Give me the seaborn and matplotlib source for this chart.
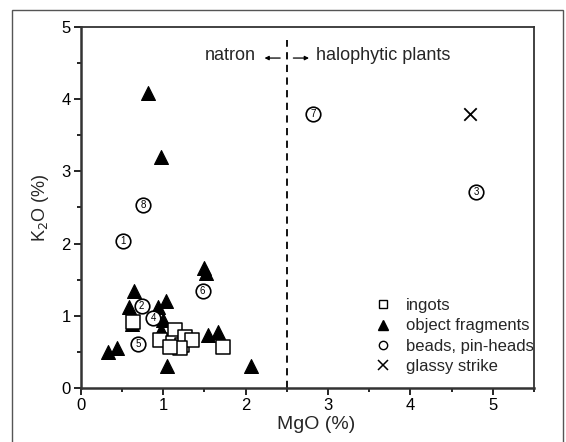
import matplotlib
matplotlib.use("Agg")
import matplotlib.pyplot as plt
import seaborn as sns
import pandas as pd
from matplotlib.lines import Line2D
from matplotlib.patches import Rectangle

# ---- data ----
ingot_mgo = [0.64, 0.96, 1.14, 1.12, 1.23, 1.27, 1.35, 1.20, 1.08, 1.73]
ingot_k2o = [0.92, 0.67, 0.80, 0.62, 0.60, 0.71, 0.66, 0.55, 0.57, 0.57]

frag_mgo = [0.82, 0.97, 1.49, 1.52, 0.65, 0.59, 1.04, 0.94, 0.62, 1.00, 0.98, 0.98,
            0.33, 0.44, 1.05, 2.07, 1.54, 1.67]
frag_k2o = [4.08, 3.20, 1.66, 1.59, 1.34, 1.12, 1.20, 1.12, 0.88, 0.94, 0.80, 0.69,
            0.50, 0.55, 0.30, 0.30, 0.74, 0.78]

bead_mgo = [0.51, 0.74, 4.80, 0.88, 0.70, 1.48, 2.82, 0.76]
bead_k2o = [2.03, 1.13, 2.72, 0.97, 0.61, 1.35, 3.80, 2.53]
bead_labels = ["1", "2", "3", "4", "5", "6", "7", "8"]

strike_mgo = [4.72]
strike_k2o = [3.79]

categories = ["ingots", "object fragments", "beads, pin-heads", "glassy strike"]
boundary_mgo = 2.5

sns.set_theme(style="white")
plt.rcParams['font.family'] = ['Liberation Sans Narrow', 'Liberation Sans', 'DejaVu Sans']

fig = plt.figure(figsize=(5.66, 4.42), dpi=100)
ax = fig.add_axes([0.1426, 0.1222, 0.8009, 0.8167])

fig.patches.append(Rectangle((12/566, -0.05), (563-12)/566, 1.05 - 10/442,
                             transform=fig.transFigure, fill=False,
                             edgecolor="#555555", linewidth=1.0))

df_i = pd.DataFrame({"MgO": ingot_mgo, "K2O": ingot_k2o})
df_f = pd.DataFrame({"MgO": frag_mgo, "K2O": frag_k2o})
df_b = pd.DataFrame({"MgO": bead_mgo, "K2O": bead_k2o, "lab": bead_labels})
df_s = pd.DataFrame({"MgO": strike_mgo, "K2O": strike_k2o})

sns.scatterplot(data=df_f, x="MgO", y="K2O", marker="^", s=100, color="black",
                edgecolor="black", linewidth=0.8, ax=ax, zorder=3)
sns.scatterplot(data=df_i, x="MgO", y="K2O", marker="s", s=100, facecolor="white",
                edgecolor="black", linewidth=1.1, ax=ax, zorder=4)
sns.scatterplot(data=df_b, x="MgO", y="K2O", marker="o", s=110, facecolor="white",
                edgecolor="black", linewidth=1.2, ax=ax, zorder=5)
sns.scatterplot(data=df_s, x="MgO", y="K2O", marker="x", s=80, color="black",
                linewidth=1.3, ax=ax, zorder=5)
for x, y, t in zip(bead_mgo, bead_k2o, bead_labels):
    ax.text(x, y, t, ha="center", va="center", fontsize=7, color="black", zorder=6)

ax.axvline(boundary_mgo, ymin=0, ymax=0.965, color="black", linestyle=(0, (4, 3)),
           linewidth=1.3, zorder=2)

arrow_kw = dict(arrowstyle="-|>", color="black", lw=0.9, mutation_scale=6,
                shrinkA=0, shrinkB=0)
ax.text(2.12, 4.60, "natron", ha="right", va="center", fontsize=13)
ax.annotate("", xy=(2.23, 4.57), xytext=(2.42, 4.57), arrowprops=arrow_kw)
ax.annotate("", xy=(2.77, 4.57), xytext=(2.58, 4.57), arrowprops=arrow_kw)
ax.text(2.86, 4.60, "halophytic plants", ha="left", va="center", fontsize=13)

ax.set_xlim(0, 5.5)
ax.set_ylim(0, 5)
ax.set_xticks([0, 1, 2, 3, 4, 5])
ax.set_xticks([0.5, 1.5, 2.5, 3.5, 4.5, 5.5], minor=True)
ax.set_yticks([0, 1, 2, 3, 4, 5])
ax.set_yticks([0.5, 1.5, 2.5, 3.5, 4.5], minor=True)
ax.tick_params(axis="both", which="major", direction="out", length=5, width=1.2,
               labelsize=12, pad=2, bottom=True, left=True, colors="black")
ax.tick_params(axis="both", which="minor", direction="out", length=3, width=1.2,
               bottom=True, left=True, colors="black")
for sp in ax.spines.values():
    sp.set_color("#333333")
    sp.set_linewidth(1.3)
ax.spines["left"].set_linewidth(1.8)
ax.spines["bottom"].set_linewidth(1.8)

ax.set_xlabel("MgO (%)", fontsize=14, labelpad=1)
ax.xaxis.set_label_coords(0.52, -0.078)
ax.set_ylabel("K$_2$O (%)", fontsize=13, labelpad=8)

handles = [
    Line2D([], [], marker="s", linestyle="none", markerfacecolor="white",
           markeredgecolor="black", markersize=6, markeredgewidth=1),
    Line2D([], [], marker="^", linestyle="none", color="black", markersize=7),
    Line2D([], [], marker="o", linestyle="none", markerfacecolor="white",
           markeredgecolor="black", markersize=6, markeredgewidth=1),
    Line2D([], [], marker="x", linestyle="none", color="black", markersize=7,
           markeredgewidth=1.1),
]
ax.legend(handles, categories, loc="lower right", bbox_to_anchor=(1.015, 0.02),
          frameon=False, fontsize=12, handletextpad=0.9, labelspacing=0.32,
          handlelength=1.0, borderaxespad=0)

fig.savefig("out.png", dpi=100)
